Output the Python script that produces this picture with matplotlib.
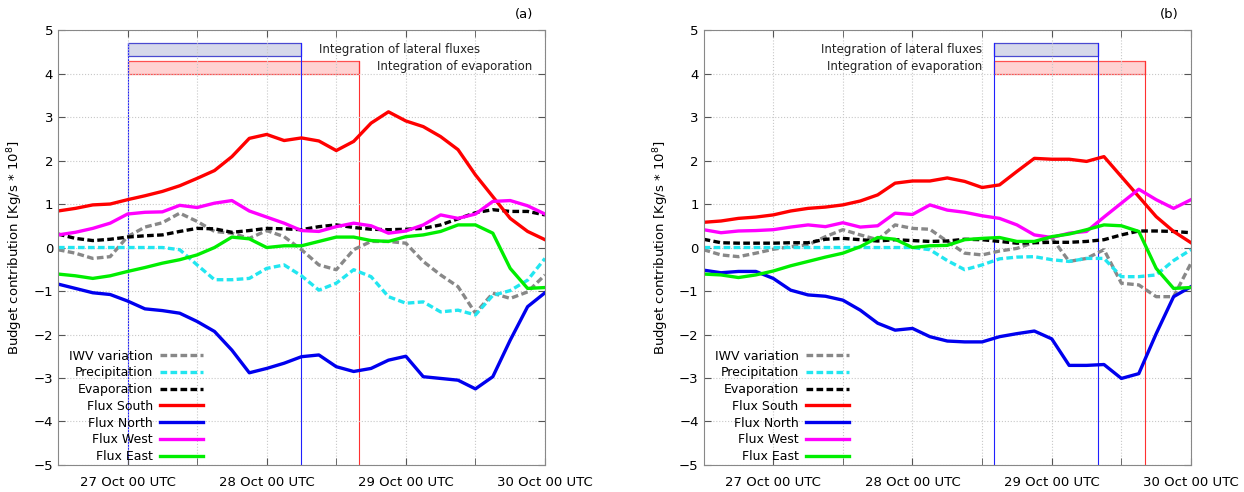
import matplotlib
matplotlib.use('Agg')
import matplotlib.pyplot as plt

# hours since 26 Oct 12 UTC
hours = list(range(0, 85, 3))

# panel (a)
iwv_a = [-0.05, -0.13, -0.25, -0.21, 0.25, 0.47, 0.57, 0.79, 0.60, 0.37, 0.33, 0.21, 0.39, 0.25, -0.05,
         -0.40, -0.51, -0.05, 0.14, 0.14, 0.10, -0.32, -0.63, -0.90, -1.51, -1.05, -1.17, -1.02, -0.63]
prec_a = [0.0, 0.0, 0.0, 0.0, 0.0, 0.0, 0.0, -0.05, -0.40, -0.74, -0.74, -0.71, -0.48, -0.40, -0.65,
          -0.98, -0.82, -0.51, -0.67, -1.13, -1.28, -1.25, -1.48, -1.44, -1.55, -1.10, -0.99, -0.75, -0.25]
evap_a = [0.31, 0.21, 0.16, 0.19, 0.24, 0.27, 0.29, 0.37, 0.44, 0.43, 0.35, 0.39, 0.44, 0.43, 0.41,
          0.48, 0.52, 0.46, 0.42, 0.41, 0.42, 0.44, 0.52, 0.66, 0.80, 0.87, 0.83, 0.83, 0.75]
south_a = [0.84, 0.90, 0.98, 1.00, 1.10, 1.19, 1.29, 1.42, 1.59, 1.77, 2.09, 2.51, 2.60, 2.46, 2.52,
           2.45, 2.23, 2.44, 2.86, 3.12, 2.91, 2.78, 2.55, 2.25, 1.67, 1.17, 0.67, 0.37, 0.18]
north_a = [-0.84, -0.94, -1.04, -1.08, -1.23, -1.41, -1.45, -1.51, -1.70, -1.93, -2.36, -2.88, -2.78, -2.66, -2.51,
           -2.47, -2.74, -2.85, -2.78, -2.59, -2.50, -2.97, -3.01, -3.05, -3.25, -2.97, -2.13, -1.36, -1.04]
west_a = [0.29, 0.35, 0.44, 0.56, 0.77, 0.81, 0.82, 0.97, 0.92, 1.02, 1.08, 0.84, 0.70, 0.56, 0.39,
          0.37, 0.48, 0.56, 0.50, 0.33, 0.38, 0.52, 0.75, 0.67, 0.77, 1.06, 1.08, 0.96, 0.77]
east_a = [-0.61, -0.65, -0.71, -0.65, -0.55, -0.46, -0.36, -0.28, -0.17, 0.0, 0.24, 0.20, 0.0, 0.04, 0.04,
          0.14, 0.24, 0.24, 0.16, 0.14, 0.25, 0.29, 0.37, 0.52, 0.52, 0.33, -0.48, -0.94, -0.92]

# panel (b)
iwv_b = [-0.05, -0.17, -0.21, -0.13, -0.04, 0.02, 0.06, 0.25, 0.41, 0.29, 0.18, 0.52, 0.44, 0.42, 0.14,
         -0.13, -0.17, -0.08, -0.02, 0.12, 0.22, -0.32, -0.25, -0.05, -0.82, -0.86, -1.13, -1.13, -0.36]
prec_b = [0.0, 0.0, 0.0, 0.0, 0.0, 0.0, 0.0, 0.0, 0.0, 0.0, 0.0, 0.0, 0.0, -0.05, -0.30,
          -0.51, -0.40, -0.26, -0.22, -0.21, -0.28, -0.32, -0.25, -0.25, -0.67, -0.67, -0.63, -0.30, -0.05]
evap_b = [0.19, 0.11, 0.10, 0.10, 0.10, 0.11, 0.11, 0.19, 0.21, 0.18, 0.15, 0.18, 0.16, 0.14, 0.15,
          0.19, 0.18, 0.14, 0.10, 0.11, 0.12, 0.12, 0.14, 0.18, 0.29, 0.38, 0.38, 0.37, 0.34]
south_b = [0.58, 0.61, 0.67, 0.70, 0.75, 0.84, 0.90, 0.93, 0.98, 1.07, 1.21, 1.48, 1.53, 1.53, 1.60,
           1.52, 1.38, 1.44, 1.75, 2.05, 2.03, 2.03, 1.98, 2.09, 1.63, 1.17, 0.71, 0.37, 0.11]
north_b = [-0.52, -0.58, -0.55, -0.55, -0.71, -0.98, -1.09, -1.12, -1.21, -1.44, -1.74, -1.90, -1.86, -2.05, -2.15,
           -2.17, -2.17, -2.05, -1.98, -1.92, -2.10, -2.71, -2.71, -2.69, -3.01, -2.90, -1.98, -1.13, -0.90]
west_b = [0.41, 0.34, 0.38, 0.39, 0.41, 0.47, 0.52, 0.48, 0.57, 0.47, 0.50, 0.79, 0.76, 0.98, 0.86,
          0.81, 0.73, 0.67, 0.52, 0.29, 0.23, 0.33, 0.37, 0.70, 1.02, 1.34, 1.10, 0.90, 1.10]
east_b = [-0.61, -0.63, -0.69, -0.63, -0.54, -0.42, -0.32, -0.22, -0.13, 0.02, 0.23, 0.19, 0.0, 0.04, 0.05,
          0.18, 0.21, 0.23, 0.14, 0.14, 0.25, 0.31, 0.41, 0.52, 0.50, 0.37, -0.48, -0.94, -0.92]

# integration windows (hours): lateral fluxes, evaporation
lateral_a = [12, 42]
evapwin_a = [12, 52]
lateral_b = [50, 68]
evapwin_b = [50, 76]

labels = ['IWV variation', 'Precipitation', 'Evaporation', 'Flux South', 'Flux North', 'Flux West', 'Flux East']
colors = ['#888888', '#22e6f0', 'black', '#ff0000', '#0000ee', '#ff00ff', '#00ee00']
dashed = [True, True, True, False, False, False, False]

tick_hours = [12, 36, 60, 84]
tick_labels = ['27 Oct 00 UTC', '28 Oct 00 UTC', '29 Oct 00 UTC', '30 Oct 00 UTC']


def draw_panel(ax, series, lateral, evapwin, tag, text_left):
    for y, lab, c, d in zip(series, labels, colors, dashed):
        if d:
            ax.plot(hours, y, color=c, lw=2.4, dashes=(2.0, 1.0), label=lab)
        else:
            ax.plot(hours, y, color=c, lw=2.4, label=lab)

    # integration bars and window lines
    ax.fill_between(lateral, 4.4, 4.7, facecolor='#d6d8ea', edgecolor='#4a4ad0', lw=0.9, zorder=1)
    ax.fill_between(evapwin, 4.0, 4.3, facecolor='#ffd2d2', edgecolor='#ff5050', lw=0.9, zorder=1)
    for h in lateral:
        ax.plot([h, h], [-5, 4.7], color='#2020ff', lw=0.8, zorder=1)
    ax.plot([evapwin[1], evapwin[1]], [-5, 4.3], color='#ff3030', lw=0.8, zorder=1)

    if text_left:
        ax.text(lateral[1] + 3, 4.55, 'Integration of lateral fluxes', fontsize=8.5, va='center', ha='left', color='#222222')
        ax.text(evapwin[1] + 3, 4.16, 'Integration of evaporation', fontsize=8.5, va='center', ha='left', color='#222222')
    else:
        ax.text(lateral[0] - 2, 4.55, 'Integration of lateral fluxes', fontsize=8.5, va='center', ha='right', color='#222222')
        ax.text(evapwin[0] - 2, 4.16, 'Integration of evaporation', fontsize=8.5, va='center', ha='right', color='#222222')

    ax.set_xlim(0, 84)
    ax.set_ylim(-5, 5)
    ax.set_xticks(tick_hours)
    ax.set_xticklabels(tick_labels)
    ax.set_xticks([24, 48, 72], minor=True)
    ax.set_yticks(range(-5, 6))
    ax.grid(True, which='both', color='#c8c8c8', ls=':', lw=0.8)
    ax.tick_params(which='both', direction='in', top=True, right=True, labelsize=9.5, color='#555555', length=5)
    ax.tick_params(axis='x', pad=8)
    for s in ax.spines.values():
        s.set_color('#888888')
    ax.set_ylabel('Budget contribution [Kg/s * 10$^8$]', fontsize=9.5, labelpad=6)
    ax.text(0.956, 1.035, tag, transform=ax.transAxes, ha='center', va='center', fontsize=9.5)
    ax.legend(loc='lower left', bbox_to_anchor=(0.01, -0.01), markerfirst=False, frameon=False,
              fontsize=9, handlelength=3.4, labelspacing=0.3, handletextpad=0.6, borderaxespad=0.1)


fig = plt.figure(figsize=(12.44, 4.92), dpi=100)
ax1 = fig.add_axes([0.0466, 0.0549, 0.3915, 0.884])
ax2 = fig.add_axes([0.5656, 0.0549, 0.3918, 0.884])

draw_panel(ax1, [iwv_a, prec_a, evap_a, south_a, north_a, west_a, east_a], lateral_a, evapwin_a, '(a)', True)
draw_panel(ax2, [iwv_b, prec_b, evap_b, south_b, north_b, west_b, east_b], lateral_b, evapwin_b, '(b)', False)

fig.savefig('out.png', dpi=100)
